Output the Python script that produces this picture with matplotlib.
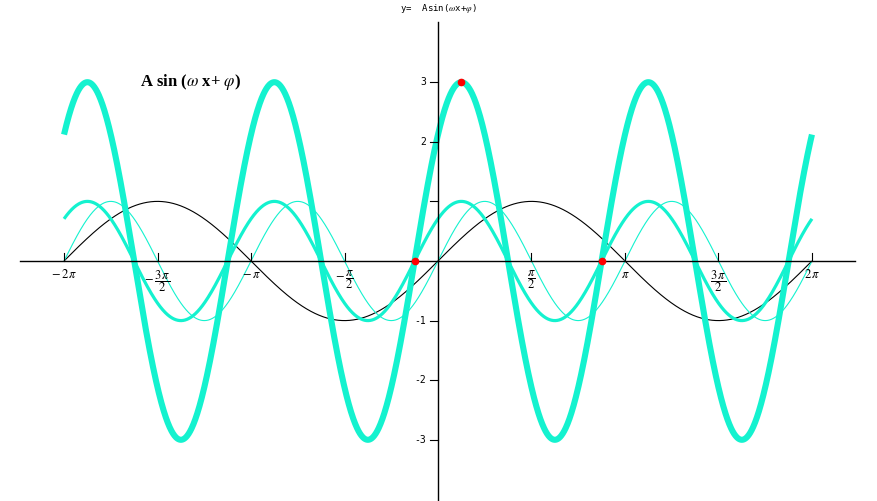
import numpy as np
import matplotlib
matplotlib.use('Agg')
import matplotlib.pyplot as plt

plt.rcParams['mathtext.fontset'] = 'stix'

# curves: (amplitude, omega, phase, colour, width)
amps = [1, 1, 1, 3]
omegas = [1, 2, 2, 2]
phases = [0, 0, np.pi / 4, np.pi / 4]
colors = ['black', '#14f2cf', '#14f2cf', '#14f2cf']
widths = [0.8, 0.8, 2.3, 4.4]

# red marker points
dot_x = [-np.pi / 8, np.pi / 8, 7 * np.pi / 8]
dot_y = [0, 3, 0]

xticks = [-2 * np.pi, -1.5 * np.pi, -np.pi, -0.5 * np.pi, 0.5 * np.pi, np.pi, 1.5 * np.pi, 2 * np.pi]
xlabels = [r'$-\,2\,\pi$', r'$-\,\dfrac{3\,\pi}{2}$', r'$-\,\pi$', r'$-\,\dfrac{\pi}{2}$',
           r'$\dfrac{\pi}{2}$', r'$\pi$', r'$\dfrac{3\,\pi}{2}$', r'$2\,\pi$']
yticks = [-3, -2, -1, 1, 2, 3]
ylabels = ['-3', '-2', '-1', '', '2', '3']

fig = plt.figure(figsize=(8.77, 5.01), dpi=100)
ax = fig.add_axes([0, 0, 1, 1])
ax.set_xlim(-7.359, 7.376)
ax.set_ylim(-4.027, 4.379)
ax.axis('off')

x = np.linspace(-2 * np.pi, 2 * np.pi, 2000)
for a, w, p, c, lw in zip(amps, omegas, phases, colors, widths):
    ax.plot(x, a * np.sin(w * x + p), color=c, lw=lw, solid_capstyle='butt')

# axes lines
ax.plot([-7.02, 7.01], [0, 0], color='black', lw=1.0)
ax.plot([0, 0], [-4.03, 4.01], color='black', lw=1.0)

tk = 0.09
for xt, lab in zip(xticks, xlabels):
    ax.plot([xt, xt], [0, 1.5 * tk], color='black', lw=0.8)
    ax.text(xt, -0.12, lab, ha='center', va='top', fontsize=9)
for yt, lab in zip(yticks, ylabels):
    ax.plot([-1.5 * tk, 0], [yt, yt], color='black', lw=0.8)
    ax.text(-0.2, yt, lab, ha='right', va='center', fontsize=7, family='DejaVu Sans Mono')

ax.plot(dot_x, dot_y, 'o', color='red', ms=4.5, zorder=5)

ax.text(0, 4.34, r'y=  Asin($\omega$x+$\varphi$)', ha='center', va='top', fontsize=6.5,
        family='DejaVu Sans Mono')
ax.text(-5.0, 3.0, r'A sin ($\omega$ x+ $\varphi$)', ha='left', va='center', fontsize=12,
        family='Liberation Serif', weight='bold')

fig.savefig('out.png', dpi=100)
